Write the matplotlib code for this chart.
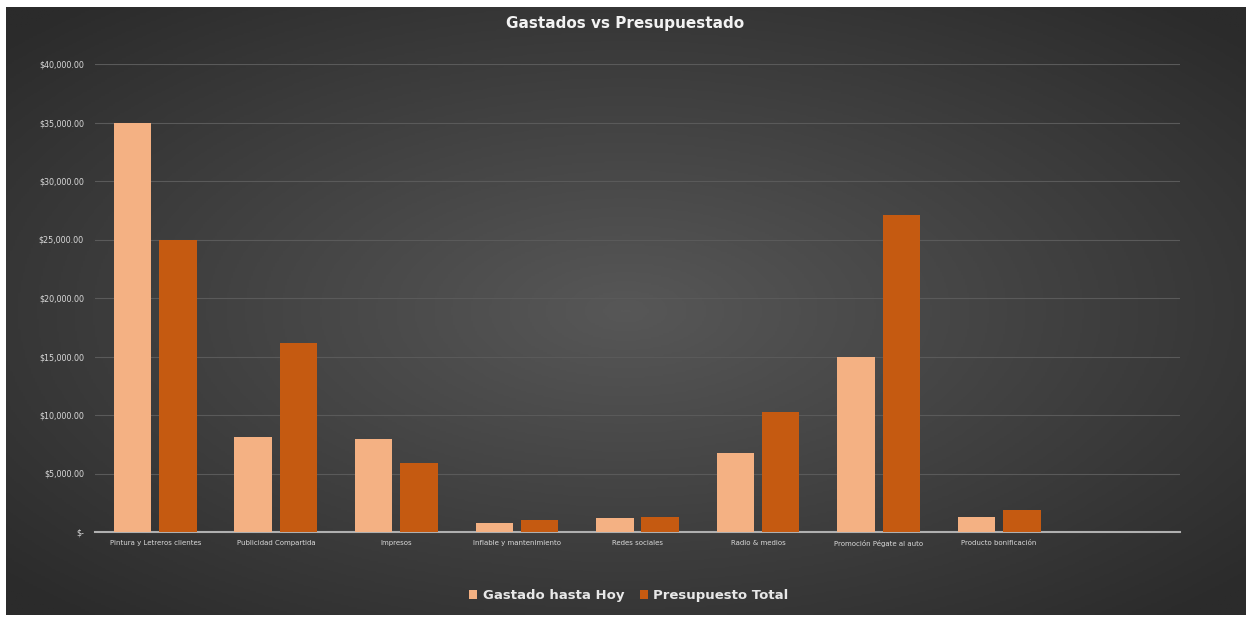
import matplotlib.pyplot as plt
import numpy as np
from matplotlib.ticker import FuncFormatter

categorias = ["Pintura y Letreros clientes", "Publicidad Compartida", "Impresos",
              "Inflable y mantenimiento", "Redes sociales", "Radio & medios",
              "Promoción Pégate al auto", "Producto bonificación"]
gastado = [35000, 8100, 7950, 770, 1200, 6750, 15000, 1280]
presupuesto = [25000, 16150, 5900, 1030, 1280, 10250, 27100, 1880]

fig = plt.figure(figsize=(12.51, 6.19), dpi=100)
fig.patch.set_facecolor("white")

# radial gradient background
bg = fig.add_axes([6 / 1251, 4 / 619, 1240 / 1251, 608 / 619])
yy, xx = np.mgrid[-1:1:300j, -1:1:600j]
r = np.clip(np.sqrt(xx**2 + yy**2) / 1.35, 0, 1)
bg.imshow(r, cmap=plt.matplotlib.colors.LinearSegmentedColormap.from_list(
    "g", ["#575757", "#2b2b2b"]), aspect="auto", extent=[0, 1, 0, 1])
bg.axis("off")

ax = fig.add_axes([95 / 1251, 87 / 619, 1085 / 1251, 468 / 619])
ax.patch.set_alpha(0)

x = np.arange(len(categorias))
w = 0.31
ax.bar(x - w / 2 - 0.033, gastado, w, color="#F4B183", label="Gastado hasta Hoy", zorder=3)
ax.bar(x + w / 2 + 0.033, presupuesto, w, color="#C55A11", label="Presupuesto Total", zorder=3)

ax.set_xlim(-0.5, 8.5)
ax.set_ylim(0, 40000)
ax.set_yticks(np.arange(0, 40001, 5000))
ax.yaxis.set_major_formatter(FuncFormatter(lambda v, p: "$-" if v == 0 else f"${v:,.2f}"))
ax.grid(axis="y", color="#5a5a5a", linewidth=0.8, zorder=0)
ax.set_xticks(x)
ax.set_xticklabels(categorias)
for s in ["top", "right", "left"]:
    ax.spines[s].set_visible(False)
ax.spines["bottom"].set_color("#b0b0b0")
ax.spines["bottom"].set_linewidth(1.5)
ax.tick_params(axis="both", length=0, colors="#d9d9d9", labelsize=5)
ax.tick_params(axis="y", pad=8, labelsize=5.8)
ax.tick_params(axis="x", pad=6)

fig.text(0.5, 0.962, "Gastados vs Presupuestado", ha="center", va="center",
         fontsize=11, fontweight="bold", color="#f2f2f2")

leg = ax.legend(loc="upper center", bbox_to_anchor=(0.492, -0.097), ncol=2, frameon=False,
                handlelength=0.6, handleheight=0.6, columnspacing=1.2, handletextpad=0.4,
                prop={"weight": "bold", "size": 9.5})
for t in leg.get_texts():
    t.set_color("#e8e8e8")

plt.savefig("out.png", dpi=100)
